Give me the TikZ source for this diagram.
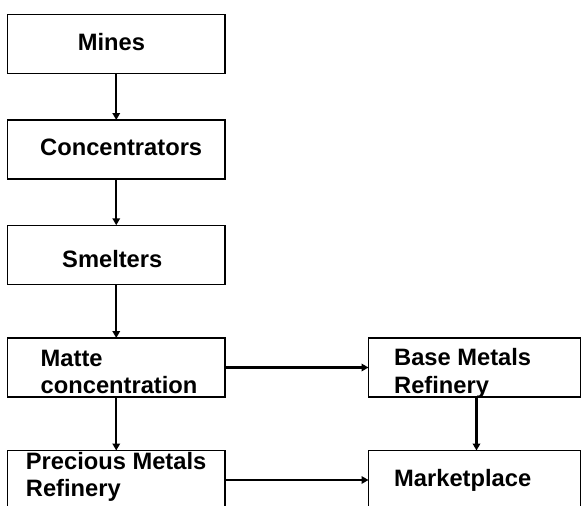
\documentclass[tikz,border=0pt]{standalone}
\usepackage{fontspec}
\setmainfont{Liberation Sans}
\usetikzlibrary{arrows.meta}

\begin{document}
\begin{tikzpicture}[x=1pt,y=-1pt,
    box/.style={draw=black,line width=1.1pt,inner sep=0pt,outer sep=0pt,
      minimum height=59pt},
    leftbox/.style={box,minimum width=217.5pt},
    rightbox/.style={box,minimum width=212pt},
    lbl/.style={inner sep=0pt,anchor=base west,align=left,
      font=\fontsize{23.7}{27.3}\selectfont\bfseries},
    arr/.style={line width=2.1pt,-{Triangle[length=7pt,width=7.5pt]}}]
  \useasboundingbox (0,0) rectangle (582,506);
  \clip (0,0) rectangle (582,506);
  % boxes
  \node [leftbox] (mines) at (116.25,44) {};
  \node [leftbox] (conc) at (116.25,149.5) {};
  \node [leftbox] (smelt) at (116.25,254.75) {};
  \node [leftbox] (matte) at (116.25,367.5) {};
  \node [leftbox] (prec) at (116.25,480) {};
  \node [rightbox] (base) at (474.5,367.5) {};
  \node [rightbox] (market) at (474.5,480) {};
  % texts (two-line ones sit on the last line)
  \node [lbl] (minesT) at (77.7,50) {Mines};
  \node [lbl] (concT) at (40,155.7) {Concentrators};
  \node [lbl] (smeltT) at (62,267) {Smelters};
  \node [lbl] (matteT) at (40.5,393.3) {Matte\\concentration};
  \node [lbl] (precT) at (25.7,496.7) {Precious Metals\\Refinery};
  \node [lbl] (baseT) at (394,393) {Base Metals\\Refinery};
  \node [lbl] (marketT) at (394,486.7) {Marketplace};
  % arrows
  \draw [arr] (mines) -- (conc);
  \draw [arr] (conc) -- (smelt);
  \draw [arr] (smelt) -- (matte);
  \draw [arr] (matte) -- (prec);
  \draw [arr] (matte) -- (base);
  \draw [arr] (prec) -- (market);
  \draw [arr] ([xshift=2pt]base.south) -- ([xshift=2pt]market.north);
\end{tikzpicture}
\end{document}
